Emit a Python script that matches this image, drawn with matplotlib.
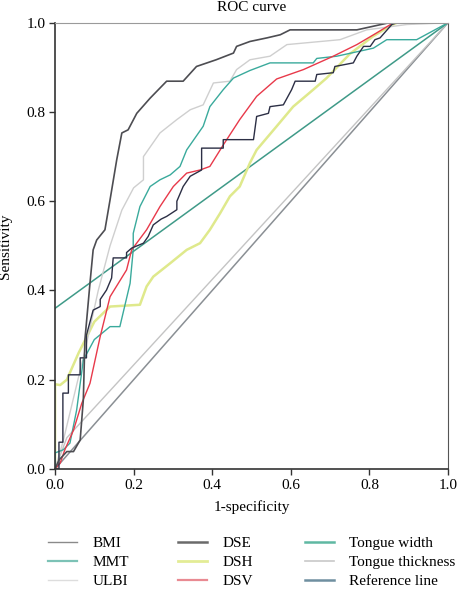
import matplotlib
matplotlib.use("Agg")
import matplotlib.pyplot as plt
from matplotlib.lines import Line2D

plt.rcParams['font.family'] = ['Liberation Serif', 'DejaVu Serif']

# ---- ROC data ----
dse_x = [0, 0.01, 0.03, 0.047, 0.064, 0.068, 0.072, 0.076, 0.089, 0.097, 0.106, 0.127, 0.14,
         0.157, 0.17, 0.186, 0.208, 0.242, 0.284, 0.326, 0.36, 0.41, 0.454, 0.462, 0.496,
         0.539, 0.573, 0.598, 0.768, 0.85, 1.0]
dse_y = [0, 0.02, 0.039, 0.039, 0.065, 0.11, 0.155, 0.289, 0.417, 0.491, 0.513, 0.536, 0.603,
         0.693, 0.753, 0.76, 0.797, 0.831, 0.869, 0.869, 0.902, 0.917, 0.932, 0.947, 0.958,
         0.966, 0.973, 0.984, 0.984, 1.0, 1.0]

bmi_x = [0, 0.01, 0.01, 0.02, 0.02, 0.034, 0.034, 0.064, 0.064, 0.08, 0.08, 0.097, 0.115,
         0.115, 0.131, 0.144, 0.148, 0.182, 0.182, 0.195, 0.225, 0.237, 0.25, 0.27, 0.284,
         0.31, 0.31, 0.326, 0.344, 0.373, 0.373, 0.428, 0.428, 0.505, 0.513, 0.543, 0.547,
         0.581, 0.602, 0.611, 0.662, 0.666, 0.708, 0.712, 0.759, 0.768, 0.785, 0.802, 0.814,
         0.827, 0.857, 0.87, 1.0]
bmi_y = [0, 0, 0.06, 0.06, 0.17, 0.17, 0.211, 0.211, 0.249, 0.249, 0.3, 0.356, 0.364,
         0.38, 0.401, 0.428, 0.473, 0.473, 0.485, 0.495, 0.506, 0.521, 0.547, 0.56, 0.566,
         0.581, 0.6, 0.633, 0.656, 0.67, 0.719, 0.719, 0.738, 0.738, 0.79, 0.797, 0.812,
         0.816, 0.85, 0.869, 0.869, 0.884, 0.888, 0.902, 0.91, 0.925, 0.947, 0.947, 0.962,
         0.966, 0.996, 1.0, 1.0]

mmt_x = [0, 0, 0.021, 0.038, 0.055, 0.072, 0.1, 0.14, 0.165, 0.191, 0.199, 0.199, 0.216,
         0.242, 0.267, 0.293, 0.318, 0.335, 0.377, 0.394, 0.428, 0.454, 0.496, 0.547, 0.657,
         0.666, 0.717, 0.81, 0.844, 0.92, 1.0]
mmt_y = [0, 0.036, 0.043, 0.058, 0.132, 0.244, 0.29, 0.319, 0.319, 0.416, 0.491, 0.528, 0.588,
         0.633, 0.648, 0.659, 0.678, 0.715, 0.768, 0.812, 0.85, 0.876, 0.893, 0.91, 0.91,
         0.92, 0.925, 0.943, 0.962, 0.962, 1.0]

ulbi_x = [0, 0.02, 0.05, 0.08, 0.11, 0.14, 0.17, 0.2, 0.225, 0.225, 0.267, 0.31, 0.344,
          0.377, 0.403, 0.445, 0.462, 0.496, 0.547, 0.59, 0.725, 0.793, 0.895, 1.0]
ulbi_y = [0, 0.06, 0.17, 0.28, 0.4, 0.5, 0.58, 0.63, 0.648, 0.7, 0.753, 0.783, 0.805,
          0.816, 0.865, 0.869, 0.895, 0.917, 0.925, 0.951, 0.962, 0.984, 0.996, 1.0]

dsh_x = [0, 0, 0.013, 0.03, 0.06, 0.1, 0.14, 0.216, 0.233, 0.25, 0.293, 0.335, 0.369, 0.394,
         0.42, 0.445, 0.47, 0.496, 0.513, 0.564, 0.606, 0.657, 0.691, 0.75, 0.81, 0.857,
         0.87, 1.0]
dsh_y = [0, 0.19, 0.188, 0.2, 0.26, 0.33, 0.364, 0.368, 0.409, 0.431, 0.461, 0.491, 0.506,
         0.536, 0.573, 0.611, 0.633, 0.686, 0.715, 0.768, 0.812, 0.85, 0.876, 0.93, 0.97,
         0.995, 1.0, 1.0]

dsv_x = [0, 0.013, 0.025, 0.047, 0.068, 0.089, 0.115, 0.14, 0.182, 0.195, 0.233, 0.267,
         0.301, 0.335, 0.369, 0.394, 0.428, 0.47, 0.513, 0.564, 0.632, 0.708, 0.768, 0.818,
         0.861, 1.0]
dsv_y = [0, 0.013, 0.043, 0.087, 0.147, 0.192, 0.297, 0.386, 0.446, 0.491, 0.536, 0.588,
         0.633, 0.663, 0.67, 0.678, 0.726, 0.783, 0.835, 0.874, 0.895, 0.925, 0.951, 0.977,
         1.0, 1.0]

width_x = [0, 1.0]
width_y = [0.36, 1.0]

thick_x = [0, 0.03, 1.0]
thick_y = [0, 0.07, 1.0]

ref_x = [0, 1.0]
ref_y = [0, 1.0]

fig = plt.figure(figsize=(4.57, 5.95), dpi=100)
ax = fig.add_axes([0.1204, 0.2118, 0.8600, 0.7500])

ax.plot(ref_x, ref_y, color='#8a8f94', lw=1.1)
ax.plot(thick_x, thick_y, color='#c4c4c4', lw=1.0)
ax.plot(width_x, width_y, color='#3f9a88', lw=1.1)
ax.plot(dsh_x, dsh_y, color='#dfe98c', lw=1.8)
ax.plot(ulbi_x, ulbi_y, color='#cfcfcf', lw=1.0)
ax.plot(mmt_x, mmt_y, color='#3aaa9c', lw=1.0)
ax.plot(dsv_x, dsv_y, color='#e8394a', lw=1.0)
ax.plot(bmi_x, bmi_y, color='#2c2f45', lw=1.0)
ax.plot(dse_x, dse_y, color='#4d4d52', lw=1.2)

ax.set_xlim(0, 1)
ax.set_ylim(0, 1)
ax.set_xticks([0, 0.2, 0.4, 0.6, 0.8, 1.0])
ax.set_yticks([0, 0.2, 0.4, 0.6, 0.8, 1.0])
ax.xaxis.set_major_formatter(matplotlib.ticker.FormatStrFormatter('%.1f'))
ax.yaxis.set_major_formatter(matplotlib.ticker.FormatStrFormatter('%.1f'))
ax.tick_params(direction='out', length=4, width=1.0, color='#333333', labelsize=11, pad=3)
for s in ['left', 'bottom']:
    ax.spines[s].set_color('#333333')
    ax.spines[s].set_linewidth(1.2)
ax.spines['top'].set_color('#9a9a9a')
ax.spines['right'].set_color('#555555')

ax.set_xlabel('1-specificity', fontsize=11, labelpad=6)
ax.set_ylabel('Sensitivity', fontsize=11, labelpad=10)
fig.text(0.55, 0.999, 'ROC curve', ha='center', va='top', fontsize=11)

# legend in three columns
cols = [
    [('BMI', '#8a8a8a', 1.0), ('MMT', '#7cc2b6', 1.6), ('ULBI', '#dddddd', 1.0)],
    [('DSE', '#6a6a6a', 1.8), ('DSH', '#e3ec96', 2.0), ('DSV', '#e98a92', 1.6)],
    [('Tongue width', '#5fb8a2', 1.8), ('Tongue thickness', '#c8c8c8', 1.2),
     ('Reference line', '#6f8fa0', 1.8)],
]
anchors = [0.105, 0.39, 0.667]
for col, xa in zip(cols, anchors):
    handles = [Line2D([], [], color=c, lw=w) for _, c, w in col]
    labels = [n for n, _, _ in col]
    fig.legend(handles, labels, loc='upper left', bbox_to_anchor=(xa, 0.098),
               frameon=False, fontsize=11, handlelength=1.9, handletextpad=1.0,
               labelspacing=0.33, borderaxespad=0, borderpad=0)

fig.savefig('out.png', dpi=100)
